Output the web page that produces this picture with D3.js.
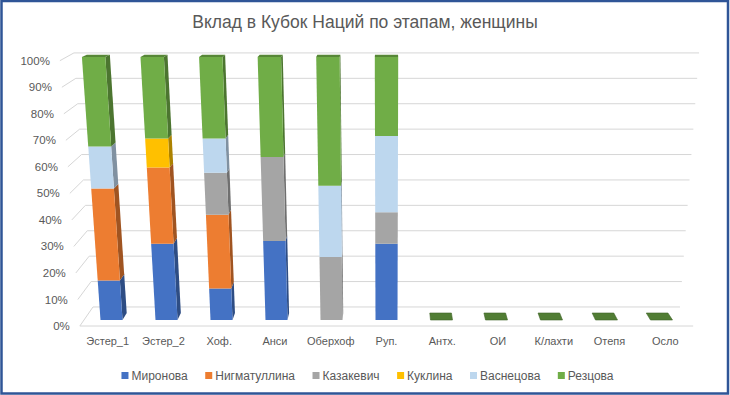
<!DOCTYPE html>
<html><head><meta charset="utf-8">
<script src="https://cdn.jsdelivr.net/npm/d3@7"></script>
<style>html,body{margin:0;padding:0;background:#fff;}svg{display:block;}text{font-family:"Liberation Sans",Arial,sans-serif;fill:#595959;}</style>
</head><body>
<script>
const categories = ["Эстер_1","Эстер_2","Хоф.","Анси","Оберхоф","Руп.","Антх.","ОИ","К/лахти","Отепя","Осло"];
const seriesNames = ["Миронова","Нигматуллина","Казакевич","Куклина","Васнецова","Резцова"];
const mironova     = [15,29,12,30, 0,29,0,0,0,0,0];
const nigmatullina = [35,29,28, 0, 0, 0,0,0,0,0,0];
const kazakevich   = [ 0, 0,16,32,24,12,0,0,0,0,0];
const kuklina      = [ 0,11, 0, 0, 0, 0,0,0,0,0,0];
const vasnetsova   = [16, 0,13, 0,27,29,0,0,0,0,0];
const reztsova     = [34,31,31,38,49,30,0,0,0,0,0];
const colors = ["#4472C4","#ED7D31","#A5A5A5","#FFC000","#BDD7EE","#70AD47"];
const yTicks = [0,0.1,0.2,0.3,0.4,0.5,0.6,0.7,0.8,0.9,1];
const title = "Вклад в Кубок Наций по этапам, женщины";

const W = 730, H = 395;
const seriesValues = [mironova,nigmatullina,kazakevich,kuklina,vasnetsova,reztsova];
const table = categories.map((c,i)=>{const o={cat:c}; seriesNames.forEach((s,k)=>o[s]=seriesValues[k][i]); return o;});
const stacked = d3.stack().keys(seriesNames).offset(d3.stackOffsetExpand)(table);

const svg = d3.select("body").append("svg").attr("width",W).attr("height",H);
svg.append("rect").attr("x",0).attr("y",0).attr("width",W).attr("height",H).attr("fill","#fff");

// scales / projection
const VX = 386.5;
const x = d3.scaleBand().domain(categories).range([84,689]).paddingInner(0.6).paddingOuter(0.3);
const y = d3.scaleLinear().domain([0,1]).range([320,57]);
const spread = d3.scaleLinear().domain([0,1]).range([1,1.065]);
const depthBack = d3.scaleLinear().domain([0,1]).range([-7,-2.2]);
const depthFront = d3.scaleLinear().domain([0,1]).range([-7,-4.3]);
function P(u,v,w){
  const s = spread(v)*(1-0.016*w);
  return [VX+(u-VX)*s, y(v) + w*(w<0?depthFront(v):depthBack(v))];
}
const WF = -0.86, WB = 1.86;
const uL = x.range()[0], uR = x.range()[1];
const poly = pts => "M"+pts.map(p=>p.join(",")).join("L")+"Z";

// gridlines
const grid = svg.append("g").attr("stroke","#d6d6d6").attr("stroke-width",1).attr("fill","none");
yTicks.forEach(t=>{
  const a=P(uL,t,WF), b=P(uL,t,WB), c=P(uR,t,WB);
  grid.append("path").attr("d",`M${a}L${b}L${c}`);
});
{const a=P(uL,0,WF), b=P(uR,0,WF); grid.append("path").attr("d",`M${a}L${b}`);}

// y labels
const yl = svg.append("g").attr("font-size","11.5px").attr("text-anchor","end");
yTicks.forEach(t=>{
  const p=P(uL,t,WF);
  yl.append("text").attr("x",p[0]-10).attr("y",p[1]).attr("dy","0.35em").text(d3.format(".0%")(t));
});

// bars
const gBars = svg.append("g");
categories.forEach((cat,i)=>{
  const u0 = x(cat), u1 = x(cat)+x.bandwidth();
  const g = gBars.append("g");
  let topIdx = -1;
  stacked.forEach((s,k)=>{ if(s[i][1]-s[i][0]>1e-9) topIdx=k; });
  if(topIdx<0){
    const col = d3.color(colors[5]).darker(0.9);
    g.append("path").attr("d",poly([P(u0,0,0),P(u1,0,0),P(u1,0,1),P(u0,0,1)]))
      .attr("fill",col).attr("stroke",d3.color(colors[5]).darker(1.5)).attr("stroke-width",0.6);
    return;
  }
  stacked.forEach((s,k)=>{
    const v0=s[i][0], v1=s[i][1];
    if(v1-v0<=1e-9) return;
    const c=colors[k];
    const side = d3.color(c).darker(1.1);
    if(u1<VX) g.append("path").attr("d",poly([P(u1,v0,0),P(u1,v0,1),P(u1,v1,1),P(u1,v1,0)])).attr("fill",side);
    if(u0>VX) g.append("path").attr("d",poly([P(u0,v0,0),P(u0,v0,1),P(u0,v1,1),P(u0,v1,0)])).attr("fill",side);
    if(k===topIdx) g.append("path").attr("d",poly([P(u0,v1,0),P(u1,v1,0),P(u1,v1,1),P(u0,v1,1)])).attr("fill",d3.color(c).darker(0.7));
    g.append("path").attr("d",poly([P(u0,v0,0),P(u1,v0,0),P(u1,v1,0),P(u0,v1,0)])).attr("fill",c);
  });
});

// x labels
const xl = svg.append("g").attr("font-size","11px").attr("text-anchor","middle");
categories.forEach(cat=>{
  const p=P(x(cat)+x.bandwidth()/2,0,WF);
  xl.append("text").attr("x",p[0]).attr("y",p[1]+19).text(cat);
});

// title
svg.append("text").attr("x",365).attr("y",28).attr("text-anchor","middle").attr("font-size","17.5px").text(title);

// legend
const lg = svg.append("g").attr("font-size","12px");
const items = seriesNames.map((n,k)=>{
  const gi = lg.append("g");
  gi.append("rect").attr("width",7).attr("height",7).attr("y",372).attr("fill",colors[k]);
  const t = gi.append("text").attr("x",10).attr("y",380).text(n);
  return {g:gi,w:10+t.node().getComputedTextLength()};
});
const gap = 17.5;
const total = d3.sum(items,d=>d.w)+gap*(items.length-1);
let cx = 367.5-total/2;
items.forEach(it=>{ it.g.attr("transform",`translate(${cx},0)`); cx+=it.w+gap; });

// border
svg.append("rect").attr("x",1.5).attr("y",1).attr("width",726.5).attr("height",392.5)
  .attr("fill","none").attr("stroke","#2F5597").attr("stroke-width",2.5);
</script>
</body></html>
